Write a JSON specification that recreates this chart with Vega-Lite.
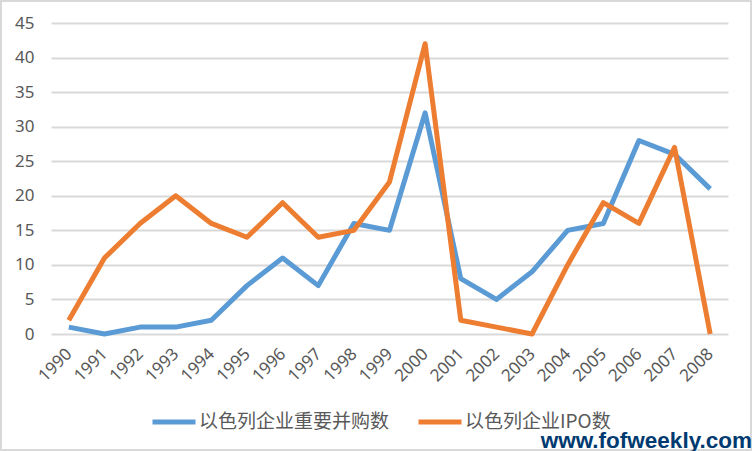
{"$schema":"https://vega.github.io/schema/vega-lite/v6.json","width":752,"height":451,"padding":0,"autosize":"none","background":"white",
"title":{"text":"www.fofweekly.com","orient":"top","anchor":"end","frame":"group","offset":-450,"dy":25,"baseline":"bottom","font":"Liberation Sans","fontSize":22.5,"fontWeight":"bold","color":"#003a70"},
"config":{"view":{"stroke":"#d9d9d9","strokeWidth":4},"font":"Noto Sans"},
"data":{"values":[
{"year":"1990","series":"以色列企业重要并购数","value":1},{"year":"1991","series":"以色列企业重要并购数","value":0},{"year":"1992","series":"以色列企业重要并购数","value":1},{"year":"1993","series":"以色列企业重要并购数","value":1},{"year":"1994","series":"以色列企业重要并购数","value":2},{"year":"1995","series":"以色列企业重要并购数","value":7},{"year":"1996","series":"以色列企业重要并购数","value":11},{"year":"1997","series":"以色列企业重要并购数","value":7},{"year":"1998","series":"以色列企业重要并购数","value":16},{"year":"1999","series":"以色列企业重要并购数","value":15},{"year":"2000","series":"以色列企业重要并购数","value":32},{"year":"2001","series":"以色列企业重要并购数","value":8},{"year":"2002","series":"以色列企业重要并购数","value":5},{"year":"2003","series":"以色列企业重要并购数","value":9},{"year":"2004","series":"以色列企业重要并购数","value":15},{"year":"2005","series":"以色列企业重要并购数","value":16},{"year":"2006","series":"以色列企业重要并购数","value":28},{"year":"2007","series":"以色列企业重要并购数","value":26},{"year":"2008","series":"以色列企业重要并购数","value":21},
{"year":"1990","series":"以色列企业IPO数","value":2},{"year":"1991","series":"以色列企业IPO数","value":11},{"year":"1992","series":"以色列企业IPO数","value":16},{"year":"1993","series":"以色列企业IPO数","value":20},{"year":"1994","series":"以色列企业IPO数","value":16},{"year":"1995","series":"以色列企业IPO数","value":14},{"year":"1996","series":"以色列企业IPO数","value":19},{"year":"1997","series":"以色列企业IPO数","value":14},{"year":"1998","series":"以色列企业IPO数","value":15},{"year":"1999","series":"以色列企业IPO数","value":22},{"year":"2000","series":"以色列企业IPO数","value":42},{"year":"2001","series":"以色列企业IPO数","value":2},{"year":"2002","series":"以色列企业IPO数","value":1},{"year":"2003","series":"以色列企业IPO数","value":0},{"year":"2004","series":"以色列企业IPO数","value":10},{"year":"2005","series":"以色列企业IPO数","value":19},{"year":"2006","series":"以色列企业IPO数","value":16},{"year":"2007","series":"以色列企业IPO数","value":27},{"year":"2008","series":"以色列企业IPO数","value":0}
]},
"mark":{"type":"line","strokeWidth":5,"strokeCap":"butt","strokeJoin":"round","clip":false},
"encoding":{
"x":{"field":"year","type":"ordinal","scale":{"type":"point","padding":0.5,"range":[51,728]},"axis":{"title":null,"grid":false,"domain":false,"ticks":false,"labelAngle":-45,"labelAlign":"right","labelBaseline":"middle","labelFontSize":17,"labelColor":"#595959","labelPadding":17,"offset":-117}},
"y":{"field":"value","type":"quantitative","scale":{"domain":[0,45],"range":[334,23],"nice":false},"axis":{"title":null,"values":[0,5,10,15,20,25,30,35,40,45],"grid":true,"gridColor":"#d9d9d9","gridWidth":2,"domain":false,"ticks":false,"labelFontSize":17,"labelColor":"#595959","labelPadding":17,"offset":-51}},
"color":{"field":"series","type":"nominal","sort":null,"scale":{"domain":["以色列企业重要并购数","以色列企业IPO数"],"range":["#5b9bd5","#ed7d31"]},"legend":{"title":null,"orient":"none","legendX":150,"legendY":398,"direction":"horizontal","columns":2,"symbolType":"stroke","symbolSize":1849,"symbolStrokeWidth":5,"labelFont":"Noto Sans CJK SC","labelFontSize":19,"labelColor":"#595959","labelLimit":300,"columnPadding":18,"labelOffset":1}}
}}
